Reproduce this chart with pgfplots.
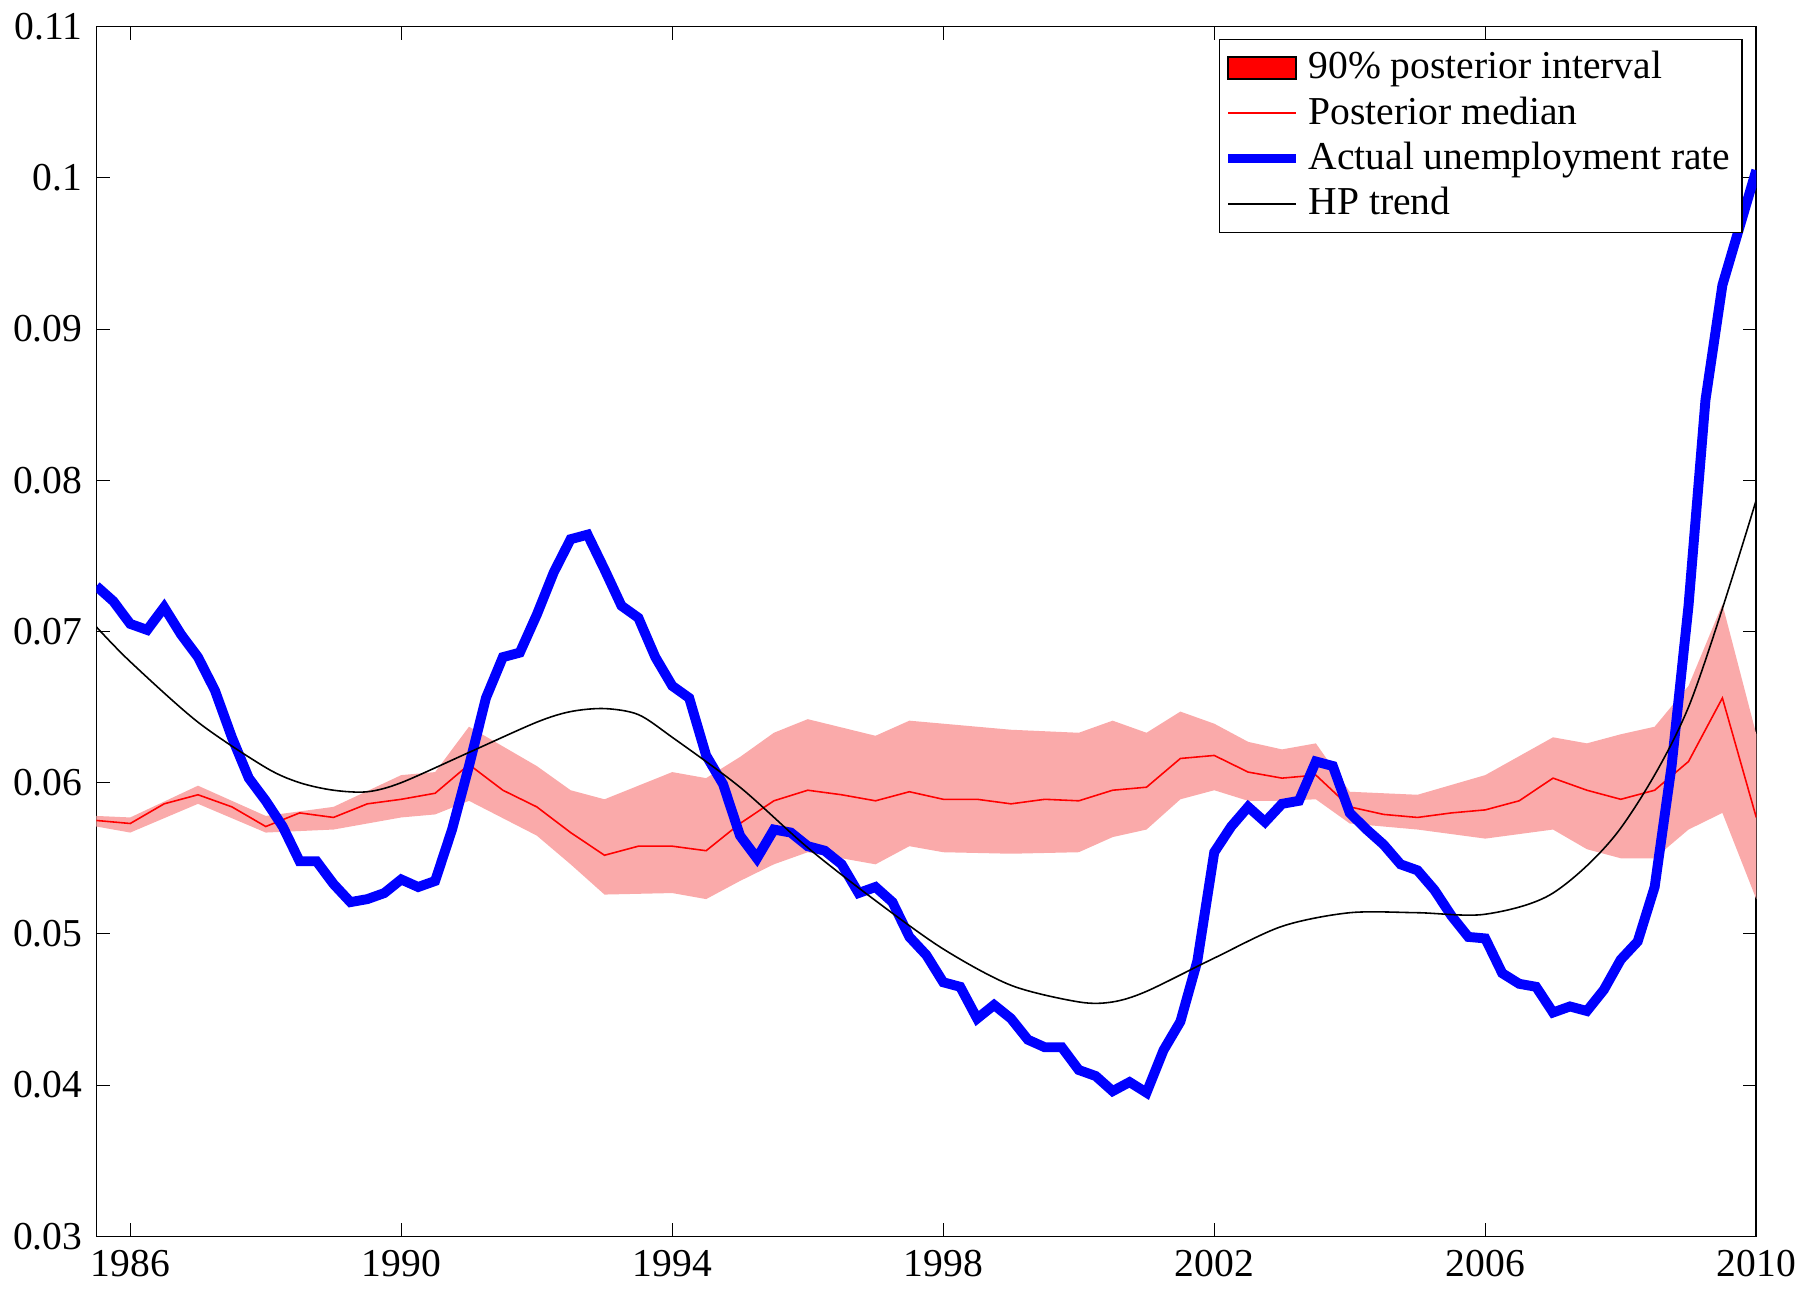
\documentclass[border=0pt]{standalone}
\usepackage{pgfplots}
\pgfplotsset{compat=1.18}
\usepgfplotslibrary{fillbetween}
\usepackage{fontspec}
\setmainfont{Liberation Serif}
\definecolor{band}{RGB}{250,170,170}
\begin{document}
\begin{tikzpicture}
\begin{axis}[scale only axis, width=14.75cm, height=10.75cm,
 xmin=1985.5, xmax=2010, ymin=0.03, ymax=0.11,
 xtick={1986,1990,1994,1998,2002,2006,2010},
 ytick={0.03,0.04,0.05,0.06,0.07,0.08,0.09,0.1,0.11},
 xticklabel style={/pgf/number format/1000 sep={}},
 yticklabel style={/pgf/number format/fixed,/pgf/number format/precision=2},
 /pgf/number format/assume math mode=true,
 tick align=inside, tick style={black}, major tick length=0.12cm,
 ticklabel style={font=\normalsize},
 legend style={at={(0.992,0.99)},anchor=north east,draw=black,font=\normalsize,cells={anchor=west},inner sep=1pt,row sep=-1pt},
 legend cell align=left]
\addplot[draw=none, name path=U, forget plot] coordinates {
(1985.5,0.0578)(1986,0.0577)(1987,0.0598)(1988,0.0578)(1989,0.0584)(1990,0.0605)(1990.5,0.0607)(1991,0.0637)(1992,0.0611)(1992.5,0.0595)(1993,0.0589)(1994,0.0607)(1994.5,0.0603)(1995,0.0617)(1995.5,0.0633)(1996,0.0642)(1997,0.0631)(1997.5,0.0641)(1998,0.0639)(1999,0.0635)(2000,0.0633)(2000.5,0.0641)(2001,0.0633)(2001.5,0.0647)(2002,0.0639)(2002.5,0.0627)(2003,0.0622)(2003.5,0.0626)(2004,0.0594)(2005,0.0592)(2006,0.0605)(2007,0.0630)(2007.5,0.0626)(2008,0.0632)(2008.5,0.0637)(2009,0.0664)(2009.5,0.0718)(2010,0.0632)};
\addplot[draw=none, name path=L, forget plot] coordinates {
(1985.5,0.0571)(1986,0.0567)(1987,0.0586)(1988,0.0567)(1989,0.0569)(1990,0.0577)(1990.5,0.0579)(1991,0.0588)(1992,0.0565)(1992.5,0.0546)(1993,0.0526)(1994,0.0527)(1994.5,0.0523)(1995,0.0535)(1995.5,0.0546)(1996,0.0554)(1997,0.0546)(1997.5,0.0558)(1998,0.0554)(1999,0.0553)(2000,0.0554)(2000.5,0.0564)(2001,0.0569)(2001.5,0.0589)(2002,0.0595)(2002.5,0.0588)(2003,0.0588)(2003.5,0.0589)(2004,0.0573)(2005,0.0569)(2006,0.0563)(2007,0.0569)(2007.5,0.0556)(2008,0.0550)(2008.5,0.0550)(2009,0.0569)(2009.5,0.0580)(2010,0.0523)};
\addplot[fill=band, draw=none, forget plot] fill between[of=U and L];
\addlegendimage{area legend, fill=red, draw=none}
\addlegendentry{90\% posterior interval}
\addplot[red, thin] coordinates {
(1985.5,0.0575)(1986,0.0573)(1986.5,0.0586)(1987,0.0592)(1987.5,0.0584)(1988,0.0571)(1988.5,0.0580)(1989,0.0577)(1989.5,0.0586)(1990,0.0589)(1990.5,0.0593)(1991,0.0612)(1991.5,0.0595)(1992,0.0584)(1992.5,0.0567)(1993,0.0552)(1993.5,0.0558)(1994,0.0558)(1994.5,0.0555)(1995,0.0573)(1995.5,0.0588)(1996,0.0595)(1996.5,0.0592)(1997,0.0588)(1997.5,0.0594)(1998,0.0589)(1998.5,0.0589)(1999,0.0586)(1999.5,0.0589)(2000,0.0588)(2000.5,0.0595)(2001,0.0597)(2001.5,0.0616)(2002,0.0618)(2002.5,0.0607)(2003,0.0603)(2003.5,0.0605)(2004,0.0584)(2004.5,0.0579)(2005,0.0577)(2005.5,0.0580)(2006,0.0582)(2006.5,0.0588)(2007,0.0603)(2007.5,0.0595)(2008,0.0589)(2008.5,0.0595)(2009,0.0614)(2009.5,0.0656)(2010,0.0577)};
\addlegendentry{Posterior median}
\addplot[blue, line width=2.5pt] coordinates {
(1985.5,0.0730)(1985.75,0.0720)(1986,0.0705)(1986.25,0.0701)(1986.5,0.0716)(1986.75,0.0698)(1987,0.0683)(1987.25,0.0661)(1987.5,0.0630)(1987.75,0.0603)
(1988,0.0588)(1988.25,0.0571)(1988.5,0.0548)(1988.75,0.0548)(1989,0.0533)(1989.25,0.0521)(1989.5,0.0523)(1989.75,0.0527)(1990,0.0536)(1990.25,0.0531)
(1990.5,0.0535)(1990.75,0.0569)(1991,0.0611)(1991.25,0.0656)(1991.5,0.0683)(1991.75,0.0686)(1992,0.0711)(1992.25,0.0739)(1992.5,0.0761)(1992.75,0.0764)
(1993,0.0741)(1993.25,0.0717)(1993.5,0.0709)(1993.75,0.0683)(1994,0.0664)(1994.25,0.0656)(1994.5,0.0618)(1994.75,0.0599)(1995,0.0565)(1995.25,0.0550)
(1995.5,0.0569)(1995.75,0.0567)(1996,0.0558)(1996.25,0.0555)(1996.5,0.0546)(1996.75,0.0527)(1997,0.0531)(1997.25,0.0521)(1997.5,0.0498)(1997.75,0.0486)
(1998,0.0468)(1998.25,0.0465)(1998.5,0.0444)(1998.75,0.0453)(1999,0.0444)(1999.25,0.0430)(1999.5,0.0425)(1999.75,0.0425)(2000,0.0410)(2000.25,0.0406)
(2000.5,0.0396)(2000.75,0.0402)(2001,0.0395)(2001.25,0.0423)(2001.5,0.0442)(2001.75,0.0482)(2002,0.0554)(2002.25,0.0571)(2002.5,0.0584)(2002.75,0.0574)
(2003,0.0586)(2003.25,0.0588)(2003.5,0.0614)(2003.75,0.0611)(2004,0.0580)(2004.25,0.0569)(2004.5,0.0559)(2004.75,0.0546)(2005,0.0542)(2005.25,0.0529)
(2005.5,0.0512)(2005.75,0.0498)(2006,0.0497)(2006.25,0.0474)(2006.5,0.0467)(2006.75,0.0465)(2007,0.0448)(2007.25,0.0452)(2007.5,0.0449)(2007.75,0.0463)
(2008,0.0483)(2008.25,0.0495)(2008.5,0.0531)(2008.75,0.0611)(2009,0.0717)(2009.25,0.0853)(2009.5,0.0929)(2009.75,0.0967)(2010,0.1005)};
\addlegendentry{Actual unemployment rate}
\addplot[black, thin, smooth] coordinates {
(1985.5,0.0703)(1986,0.0680)(1987,0.0640)(1988,0.0610)(1988.5,0.0600)(1989,0.0595)(1989.5,0.0594)(1990,0.0600)(1991,0.0620)(1992,0.0640)(1992.5,0.0647)(1993,0.0649)(1993.5,0.0645)(1994,0.0630)(1995,0.0597)(1996,0.0557)(1997,0.0522)(1998,0.0490)(1999,0.0466)(2000,0.0455)(2000.5,0.0455)(2001,0.0462)(2002,0.0484)(2003,0.0505)(2004,0.0514)(2005,0.0514)(2006,0.0513)(2007,0.0527)(2008,0.0570)(2009,0.0650)(2010,0.0787)};
\addlegendentry{HP trend}
\end{axis}
\end{tikzpicture}
\end{document}
